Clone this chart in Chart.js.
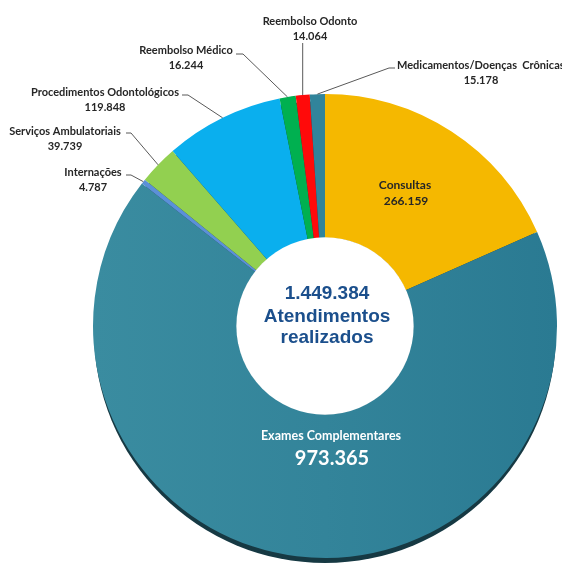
<!DOCTYPE html>
<html>
<head>
<meta charset="utf-8">
<script src="https://cdn.jsdelivr.net/npm/chart.js@4.4.1/dist/chart.umd.min.js"></script>
<style>
  html, body { margin: 0; padding: 0; background: #fff; overflow: hidden; }
  canvas { display: block; }
</style>
</head>
<body>
<canvas id="pieChart" width="562" height="563"></canvas>
<script>
// Data
const categories = [
  "Consultas",
  "Exames Complementares",
  "Internações",
  "Serviços Ambulatoriais",
  "Procedimentos Odontológicos",
  "Reembolso Médico",
  "Reembolso Odonto",
  "Medicamentos/Doenças  Crônicas",
];
const values = [266159, 973365, 4787, 39739, 119848, 16244, 14064, 15178];
const centerLines = ["Atendimentos", "realizados"];

const colors = ["#F5B800", "#33849A", "#5B90D8", "#92D050", "#0AAFEE", "#00B050", "#FF0A0A", "#31849B"];

// label placement (text centre + leader elbow), index matches categories
const labelPos = [
  { inside: true, x: 405, y: 185 },
  { inside: true, x: 331, y: 436 },
  { x: 93, y: 172, ex: 131, ey: 175, hx: 126 },
  { x: 65, y: 131, ex: 131, ey: 133, hx: 126 },
  { x: 105, y: 92, ex: 188, ey: 95, hx: 182 },
  { x: 186, y: 50, ex: 243, ey: 54, hx: 236 },
  { x: 310, y: 21, vertical: true, ey: 43 },
  { x: 481, y: 65, ex: 389, ey: 68, hx: 395 },
];

function fmt(n) {
  return String(n).replace(/\B(?=(\d{3})+(?!\d))/g, ".");
}

const total = values.reduce((s, v) => s + v, 0);

const labelFont = "bold 11px Lato";

const pieLabels = {
  id: "pieLabels",
  beforeDatasetsDraw(chart) {
    // dark rim under the bottom of the pie
    const arc = chart.getDatasetMeta(0).data[0];
    if (!arc) return;
    const ctx = chart.ctx;
    ctx.save();
    ctx.fillStyle = "#163943";
    ctx.beginPath();
    ctx.arc(arc.x, arc.y + 6, arc.outerRadius - 1, 0, Math.PI * 2);
    ctx.fill();
    ctx.restore();
  },
  afterDatasetsDraw(chart) {
    const ctx = chart.ctx;
    const meta = chart.getDatasetMeta(0);
    ctx.save();

    // keep the hole white (the rim was painted under it)
    const a = meta.data[0];
    ctx.fillStyle = "#ffffff";
    ctx.beginPath();
    ctx.arc(a.x, a.y, a.innerRadius + 0.5, 0, Math.PI * 2);
    ctx.fill();

    meta.data.forEach((arc, i) => {
      const p = labelPos[i];
      const mid = (arc.startAngle + arc.endAngle) / 2;
      const ox = arc.x + Math.cos(mid) * arc.outerRadius;
      const oy = arc.y + Math.sin(mid) * arc.outerRadius;

      if (p.inside) {
        ctx.textAlign = "center";
        ctx.textBaseline = "middle";
        if (i === 0) {
          ctx.fillStyle = "#262626";
          ctx.font = "bold 12px Lato";
          ctx.fillText(categories[i], p.x, p.y);
          ctx.fillText(fmt(values[i]), p.x + 1, p.y + 16);
        } else {
          ctx.fillStyle = "#ffffff";
          ctx.font = "bold 12.5px Lato";
          ctx.fillText(categories[i], p.x, p.y);
          ctx.font = "bold 20px Lato";
          ctx.fillText(fmt(values[i]), p.x + 1, p.y + 23);
        }
        return;
      }

      // leader line
      ctx.strokeStyle = "#595959";
      ctx.lineWidth = 1;
      ctx.beginPath();
      if (p.vertical) {
        ctx.moveTo(ox, oy);
        ctx.lineTo(ox, p.ey);
      } else {
        ctx.moveTo(ox, oy);
        ctx.lineTo(p.ex, p.ey);
        ctx.lineTo(p.hx, p.ey);
      }
      ctx.stroke();

      ctx.fillStyle = "#262626";
      ctx.font = labelFont;
      ctx.textAlign = "center";
      ctx.textBaseline = "middle";
      if (i === 7) {
        ctx.textAlign = "left";
        ctx.fillText(categories[i], 397, p.y);
        ctx.textAlign = "center";
      } else {
        ctx.fillText(categories[i], p.x, p.y);
      }
      ctx.fillText(fmt(values[i]), p.x, p.y + 15);
    });

    // centre text
    ctx.fillStyle = "#1B4F8C";
    ctx.font = "bold 19px 'Liberation Sans', Arial";
    ctx.textAlign = "center";
    ctx.textBaseline = "middle";
    ctx.fillText(fmt(total), a.x + 2, a.y - 32);
    ctx.fillText(centerLines[0], a.x + 2, a.y - 9);
    ctx.fillText(centerLines[1], a.x + 2, a.y + 12);
    ctx.restore();
  },
};

new Chart(document.getElementById("pieChart").getContext("2d"), {
  type: "doughnut",
  data: {
    labels: categories,
    datasets: [
      {
        data: values,
        backgroundColor: (c) => {
          const area = c.chart.chartArea;
          if (c.dataIndex !== 1 || !area) return colors[c.dataIndex];
          const g = c.chart.ctx.createLinearGradient(area.left, 0, area.right, 0);
          g.addColorStop(0, "#3A8CA0");
          g.addColorStop(0.5, "#33849A");
          g.addColorStop(1, "#2A7A92");
          return g;
        },
        borderWidth: 0,
      },
    ],
  },
  options: {
    responsive: false,
    animation: false,
    cutout: "38%",
    layout: { padding: { left: 93, right: 5, top: 94, bottom: 5 } },
    plugins: {
      legend: { display: false },
      tooltip: { enabled: false },
    },
  },
  plugins: [pieLabels],
});
</script>
</body>
</html>
